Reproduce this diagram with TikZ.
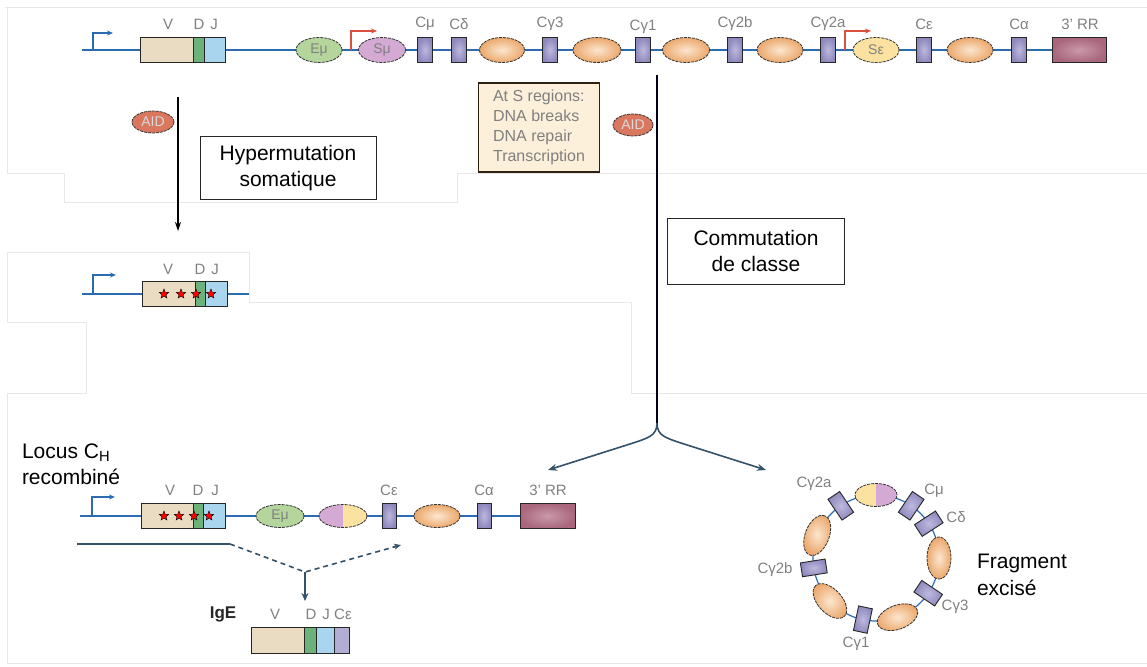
\documentclass[tikz,border=0pt]{standalone}
\usepackage{fontspec}
\setmainfont{Liberation Sans}
\usetikzlibrary{shapes.geometric,arrows.meta,backgrounds,calc}
\definecolor{dnablue}{HTML}{2B6CB0}
\definecolor{vbeige}{HTML}{EADCC2}
\definecolor{dgreen}{HTML}{6CB27A}
\definecolor{jblue}{HTML}{A9D6EE}
\definecolor{cpurple}{HTML}{9D98C8}
\definecolor{cplight}{HTML}{BDB9DE}
\definecolor{cpdark}{HTML}{8E89BD}
\definecolor{orlight}{HTML}{FCE6CF}
\definecolor{ordark}{HTML}{EBA86C}
\definecolor{egreen}{HTML}{B4D59C}
\definecolor{spurple}{HTML}{D4AAD4}
\definecolor{syellow}{HTML}{FBE2A0}
\definecolor{rrcol}{HTML}{A9667C}
\definecolor{rrlight}{HTML}{C99AAA}
\definecolor{aidcol}{HTML}{D9775F}
\definecolor{sboxfill}{HTML}{FDF0DA}
\definecolor{labgray}{HTML}{808080}
\definecolor{slate}{HTML}{34526A}
\definecolor{faint}{HTML}{E8E8E8}
\definecolor{promred}{HTML}{D9503F}
\begin{document}
\begin{tikzpicture}[x=1pt,y=-1pt,
  every node/.style={inner sep=0pt,outer sep=0pt},
  dna/.style={draw=dnablue,line width=1.5pt},
  prom/.style={draw=dnablue,line width=1.3pt,-{Stealth[length=6pt,width=5pt]}},
  promr/.style={draw=promred,line width=1.1pt,-{Stealth[length=6pt,width=5pt]}},
  seg/.style={draw=black!85,line width=0.9pt,minimum height=25pt,anchor=west},
  cbox/.style={draw=black!85,line width=0.9pt,inner color=cplight,outer color=cpdark,minimum width=15pt,minimum height=25pt},
  cboxc/.style={draw=black!85,line width=0.9pt,inner color=cplight,outer color=cpdark,minimum width=14pt,minimum height=25pt},
  ellb/.style={ellipse,draw=black!80,line width=0.8pt,dash pattern=on 3pt off 1pt,minimum width=46pt,minimum height=25pt},
  oell/.style={ellb,inner color=orlight,outer color=ordark},
  oellc/.style={ellb,inner color=orlight,outer color=ordark,minimum width=42pt,minimum height=24pt},
  lbl/.style={text=labgray,font=\fontsize{15}{15}\selectfont},
  inlbl/.style={text=labgray,font=\fontsize{14}{14}\selectfont},
  big/.style={font=\fontsize{21}{26}\selectfont,align=center},
  bigl/.style={font=\fontsize{21}{25}\selectfont,align=left,anchor=west},
  textbox/.style={draw=black!85,line width=0.9pt,fill=white,big},
  aid/.style={ellb,fill=aidcol,minimum width=42pt,minimum height=22pt,text=white!70!gray,font=\fontsize{14}{14}\selectfont},
  mstar/.style={star,star points=5,star point ratio=2.3,fill=red,draw=black,line width=0.4pt,minimum size=10pt},
  branch/.style={draw=slate,line width=1.6pt,-{Stealth[length=9pt,width=7pt]}},
  faintl/.style={draw=faint,line width=0.6pt}
]
\useasboundingbox (0,0) rectangle (1147,666);

% faint frame lines
\draw[faintl] (5,7) -- (1147,7);
\draw[faintl] (7,7) -- (7,173) -- (64,173) -- (64,202) -- (457,202) -- (457,173) -- (1147,173);
\draw[faintl] (7,252) -- (249,252) -- (249,302) -- (631,302) -- (631,393) -- (1147,393);
\draw[faintl] (7,252) -- (7,322) -- (86,322) -- (86,393) -- (7,393) -- (7,663) -- (1147,663);

% ================= Row 1 =================
\node[seg,fill=vbeige,minimum width=53pt] (V1) at (140,50) {};
\node[seg,fill=dgreen,minimum width=11pt] (D1) at (V1.east) {};
\node[seg,fill=jblue,minimum width=21pt] (J1) at (D1.east) {};
\node[lbl] (V1l) at (168,24) {V};
\node[lbl] (D1l) at (199,24) {D};
\node[lbl] (J1l) at (214,24) {J};
\node[ellb,fill=egreen,inlbl] (Em1) at (319,50) {Eμ};
\node[ellb,fill=spurple,inlbl,minimum width=47pt] (Sm1) at (382,50) {Sμ};
\node[cbox] (Cm1) at (425,50) {};
\node[cbox] (Cd1) at (459,50) {};
\node[oell,minimum width=45pt] (o1) at (502,50) {};
\node[cbox] (Cg31) at (550,50) {};
\node[oell,minimum width=48pt] (o2) at (597,50) {};
\node[cbox] (Cg11) at (643,50) {};
\node[oell,minimum width=47pt] (o3) at (686,50) {};
\node[cbox] (Cg2b1) at (735,50) {};
\node[oell] (o4) at (780,50) {};
\node[cbox] (Cg2a1) at (828,50) {};
\node[ellb,fill=syellow,inlbl] (Se1) at (876,50) {Sε};
\node[cbox] (Ce1) at (924,50) {};
\node[oell] (o5) at (970,50) {};
\node[cbox] (Ca1) at (1019,50) {};
\node[seg,inner color=rrlight,outer color=rrcol,minimum width=54pt] (RR1) at (1052,50) {};
\node[lbl] at (425,24) {Cμ};
\node[lbl] at (459,24) {Cδ};
\node[lbl] at (550,24) {Cγ3};
\node[lbl] at (643,27) {Cγ1};
\node[lbl] at (735,24) {Cγ2b};
\node[lbl] at (828,24) {Cγ2a};
\node[lbl] at (924,24) {Cε};
\node[lbl] at (1019,24) {Cα};
\node[lbl] at (1080,24) {3’ RR};
\coordinate (r1s) at (82,50);
\coordinate (p1) at (93,50);
\coordinate (p1e) at (113,33);
\coordinate (pr1) at (351,50);
\coordinate (pr1e) at (377,31);
\coordinate (pr2) at (845,50);
\coordinate (pr2e) at (871,31);
\begin{pgfonlayer}{background}
\draw[dna] (r1s) -- (RR1.west);
\end{pgfonlayer}
\draw[prom] (p1) |- (p1e);
\draw[promr] (pr1) |- (pr1e);
\draw[promr] (pr2) |- (pr2e);

% ================= AID / Hypermutation =================
\node[aid] (aidL) at (153,122) {AID};
\coordinate (hmA) at (178,97);
\coordinate (hmB) at (178,231);
\draw[black,line width=1.2pt,-{Stealth[length=9pt,width=6pt]}] (hmA) -- (hmB);
\node[textbox,minimum width=176pt,minimum height=63pt] (hyp) at (288,168) {Hypermutation\\somatique};

\node[draw=black!75!brown,line width=1.2pt,fill=sboxfill,minimum width=121pt,minimum height=89pt,
      text=labgray,font=\fontsize{16}{20}\selectfont,align=left] (sreg) at (539,127.5)
      {At S regions:\\DNA breaks\\DNA repair\\Transcription};
\node[aid,minimum width=40pt] (aidM) at (633,125) {AID};

% ================= Class switch =================
\coordinate (cA) at (657,75);
\coordinate (split) at (657,423);
\coordinate (lmid) at (630,444);
\coordinate (ltip) at (548,470);
\coordinate (rmid) at (684,444);
\coordinate (rtip) at (766,470);
\draw[draw=black!90!blue,line width=1.5pt] (cA) -- (split);
\draw[branch] (split) .. controls (657,436) and (648,438) .. (lmid) -- (ltip);
\draw[branch] (split) .. controls (657,436) and (666,438) .. (rmid) -- (rtip);
\node[textbox,minimum width=177pt,minimum height=66pt] (comm) at (756,251) {Commutation\\de classe};

% ================= Row 2 =================
\node[seg,fill=vbeige,minimum width=53pt] (V2) at (142,294) {};
\node[seg,fill=dgreen,minimum width=10pt] (D2) at (V2.east) {};
\node[seg,fill=jblue,minimum width=22pt] (J2) at (D2.east) {};
\node[lbl] at (168,269) {V};
\node[lbl] at (200,269) {D};
\node[lbl] at (215,269) {J};
\coordinate (r2s) at (82,294);
\coordinate (r2e) at (249,294);
\coordinate (p2) at (93,294);
\coordinate (p2e) at (116,275);
\begin{pgfonlayer}{background}
\draw[dna] (r2s) -- (r2e);
\end{pgfonlayer}
\draw[prom] (p2) |- (p2e);
\node[mstar] (st2a) at (164,294) {};
\node[mstar] (st2b) at (181,294) {};
\node[mstar] (st2c) at (196,294) {};
\node[mstar] (st2d) at (211,294) {};

% ================= Row 3 =================
\node[bigl] (locus) at (22,453) {Locus C\textsubscript{H}};
\node[bigl] (recomb) at (22,477) {recombiné};
\node[seg,fill=vbeige,minimum width=52pt] (V3) at (141,516) {};
\node[seg,fill=dgreen,minimum width=10pt] (D3) at (V3.east) {};
\node[seg,fill=jblue,minimum width=22pt] (J3) at (D3.east) {};
\node[lbl] at (170,490) {V};
\node[lbl] at (198,490) {D};
\node[lbl] at (215,490) {J};
\node[mstar] (st3a) at (164,516) {};
\node[mstar] (st3b) at (179,516) {};
\node[mstar] (st3c) at (194,516) {};
\node[mstar] (st3d) at (209,516) {};
\node[ellb,fill=egreen,inlbl,minimum width=48pt,minimum height=23pt] (Em3) at (280,516) {Eμ};
\node[ellb,fill=syellow,minimum width=48pt,minimum height=23pt,
      path picture={\fill[spurple] (path picture bounding box.south west) rectangle (path picture bounding box.north);}] (sp3) at (343,516) {};
\node[cboxc] (Ce3) at (389,516) {};
\node[oell,minimum width=46pt,minimum height=23pt] (o31) at (437,516) {};
\node[cboxc] (Ca3) at (484,516) {};
\node[seg,inner color=rrlight,outer color=rrcol,minimum width=55pt] (RR3) at (520,516) {};
\node[lbl] at (389,490) {Cε};
\node[lbl] at (484,490) {Cα};
\node[lbl] at (548,490) {3’ RR};
\coordinate (r3s) at (80,516);
\coordinate (p3) at (92,516);
\coordinate (p3e) at (115,497);
\begin{pgfonlayer}{background}
\draw[dna] (r3s) -- (RR3.west);
\end{pgfonlayer}
\draw[prom] (p3) |- (p3e);

% transcription / splicing lines
\coordinate (tA) at (77,544);
\coordinate (tB) at (230,544);
\coordinate (tC) at (305,572);
\coordinate (tD) at (401,545);
\coordinate (tE) at (305,601);
\draw[slate,line width=1.8pt] (tA) -- (tB);
\draw[slate,line width=1.6pt,dash pattern=on 5pt off 4pt] (tB) -- (tC) -- (tD);
\draw[slate,line width=1.6pt,-{Stealth[length=7pt,width=6pt]}] ($(tD)+(-8,2)$) -- (tD);
\draw[slate,line width=1.8pt,-{Stealth[length=8pt,width=7pt]}] (tC) -- (tE);

% IgE
\node[font=\fontsize{17}{17}\selectfont\bfseries,text=black!85] (ige) at (223,614) {IgE};
\node[seg,fill=vbeige,minimum width=53pt,minimum height=26pt] (V4) at (251,640) {};
\node[seg,fill=dgreen,minimum width=12pt,minimum height=26pt] (D4) at (V4.east) {};
\node[seg,fill=jblue,minimum width=18pt,minimum height=26pt] (J4) at (D4.east) {};
\node[seg,fill=cpurple!80,minimum width=15pt,minimum height=26pt] (C4) at (J4.east) {};
\node[lbl] at (275,614) {V};
\node[lbl] at (311,614) {D};
\node[lbl] at (326,614) {J};
\node[lbl] at (343,614) {Cε};

% ================= Excised circle =================
\coordinate (cc) at (876,558);
\draw[dnablue,line width=1.2pt] (cc) circle[radius=63pt];
\node[ellb,fill=spurple,minimum width=42pt,minimum height=23pt,
      path picture={\fill[syellow] (path picture bounding box.south west) rectangle (path picture bounding box.north);}] (ct) at (876,495) {};
\node[cboxc,rotate=-34] (cCm) at (911.2,505.8) {};
\node[cboxc,rotate=-57] (cCd) at (928.8,523.7) {};
\node[oellc,rotate=-90] (cor) at (939,558) {};
\node[cboxc,rotate=-124] (cCg3) at (928.2,593.2) {};
\node[oellc,rotate=-160] (cobr) at (897.5,617.2) {};
\node[cboxc,rotate=-192] (cCg1) at (862.9,619.6) {};
\node[oellc,rotate=-227] (cobl) at (829.9,601.0) {};
\node[cboxc,rotate=99] (cCg2b) at (813.8,567.9) {};
\node[oellc,rotate=69] (col) at (817.2,535.4) {};
\node[cboxc,rotate=34] (cCg2a) at (840.8,505.8) {};
\node[lbl] at (814,484) {Cγ2a};
\node[lbl] at (934,491) {Cμ};
\node[lbl] at (956,517) {Cδ};
\node[lbl] at (955,607) {Cγ3};
\node[lbl] at (856,644) {Cγ1};
\node[lbl] at (775,570) {Cγ2b};
\node[bigl] (frag) at (977,563) {Fragment};
\node[bigl] (exc) at (977,588) {excisé};
\end{tikzpicture}
\end{document}
